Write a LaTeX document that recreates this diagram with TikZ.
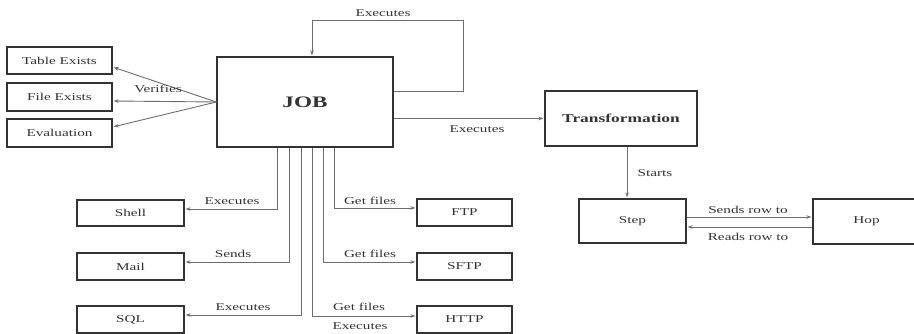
\documentclass[tikz,border=0pt]{standalone}
\usepackage{fontspec}
\setmainfont{Liberation Serif}[FakeStretch=1.45]
\usetikzlibrary{arrows.meta,calc}
\definecolor{ink}{HTML}{333333}
\definecolor{wire}{HTML}{6E6E6E}
\tikzset{
  box/.style={draw=ink, line width=1.3pt, rectangle, inner sep=0pt, text=ink,
    font=\fontsize{10.5}{12}\selectfont},
  bigbox/.style={box, font=\bfseries\fontsize{12}{14}\selectfont},
  conn/.style={draw=wire, line width=0.9pt},
  arr/.style={conn, -{Stealth[length=5pt,width=3.6pt]}, shorten >=1pt},
  lbl/.style={text=ink, inner sep=0pt, font=\fontsize{10.5}{12}\selectfont}
}
\begin{document}
\begin{tikzpicture}[x=1pt,y=-1pt]
\useasboundingbox (0,0) rectangle (914,334);
\fill[white] (0,0) rectangle (914,334);

% checks run by the job
\node[box, minimum width=105pt, minimum height=27pt] (tbl) at (59.5,60.5) {Table Exists};
\node[box, minimum width=105pt, minimum height=28pt] (fil) at (59.5,97) {File Exists};
\node[box, minimum width=105pt, minimum height=28pt] (evl) at (59.5,133) {Evaluation};

% the job itself
\node[box, minimum width=176pt, minimum height=90pt,
      font=\bfseries\fontsize{16}{18}\selectfont] (job) at (305,102) {JOB};

% transformation side
\node[bigbox, minimum width=152pt, minimum height=55pt] (tra) at (621,118.5) {Transformation};
\node[box, minimum width=107pt, minimum height=44pt] (stp) at (632.5,221) {Step};
\node[box, minimum width=107pt, minimum height=45pt] (hop) at (866.5,221.5) {Hop};

% entries executed or sent by the job
\node[box, minimum width=107pt, minimum height=26pt] (shell) at (130.5,213) {Shell};
\node[box, minimum width=107pt, minimum height=27pt] (mail) at (130.5,266.5) {Mail};
\node[box, minimum width=107pt, minimum height=27pt] (sql) at (130.5,319.5) {SQL};
\node[box, minimum width=95pt, minimum height=27pt] (ftp) at (464.5,212.5) {FTP};
\node[box, minimum width=95pt, minimum height=27pt] (sftp) at (464.5,266.5) {SFTP};
\node[box, minimum width=95pt, minimum height=27pt] (http) at (464.5,319.5) {HTTP};

% verification fan
\draw[arr] (job.west) -- ([yshift=-6.5pt]tbl.east);
\draw[arr] (job.west) -- ([yshift=-4pt]fil.east);
\draw[arr] (job.west) -- ([yshift=6pt]evl.east);
\node[lbl] (lverify) at (158,89) {Verifies};

% job calls itself
\coordinate (loopR) at (463,20);
\coordinate (loopL) at (312,20);
\draw[arr] ([yshift=11pt]job.east) -| (loopR) -- (loopL) -- (loopL |- job.north);
\node[lbl] (lloop) at (383,13) {Executes};

% job runs the transformation
\draw[arr] (job.east |- tra.west) -- (tra.west);
\node[lbl] (ltra) at (477,129) {Executes};

% transformation starts a step
\draw[arr] ([xshift=6pt]tra.south) -- ([xshift=6pt]tra.south |- stp.north);
\node[lbl] (lstart) at (655,173) {Starts};

% rows between step and hop
\draw[arr] ([yshift=4pt]stp.east) -- ([yshift=4pt]stp.east -| hop.west);
\draw[arr] ([yshift=-6pt]stp.east -| hop.west) -- ([yshift=-6pt]stp.east);
\node[lbl] (lsend) at (748,210) {Sends row to};
\node[lbl] (lread) at (748,237) {Reads row to};

% job entries below the job
\coordinate (cshell) at (277,209);
\coordinate (cmail) at (289,262);
\coordinate (csql) at (301,315);
\coordinate (chttp) at (312,316);
\coordinate (csftp) at (323,262);
\coordinate (cftp) at (334,208);
\draw[arr] (cshell |- job.south) -- (cshell) -- (cshell -| shell.east);
\draw[arr] (cmail |- job.south) -- (cmail) -- (cmail -| mail.east);
\draw[arr] (csql |- job.south) -- (csql) -- (csql -| sql.east);
\draw[arr] (chttp |- job.south) -- (chttp) -- (chttp -| http.west);
\draw[arr] (csftp |- job.south) -- (csftp) -- (csftp -| sftp.west);
\draw[arr] (cftp |- job.south) -- (cftp) -- (cftp -| ftp.west);

\node[lbl] (lshell) at (232,201) {Executes};
\node[lbl] (lmail) at (233,254) {Sends};
\node[lbl] (lsql) at (243,307) {Executes};
\node[lbl] (lftp) at (370,201) {Get files};
\node[lbl] (lsftp) at (370,254) {Get files};
\node[lbl] (lhttp) at (359,307) {Get files};
\node[lbl] (lhttpx) at (360,326) {Executes};
\end{tikzpicture}
\end{document}
